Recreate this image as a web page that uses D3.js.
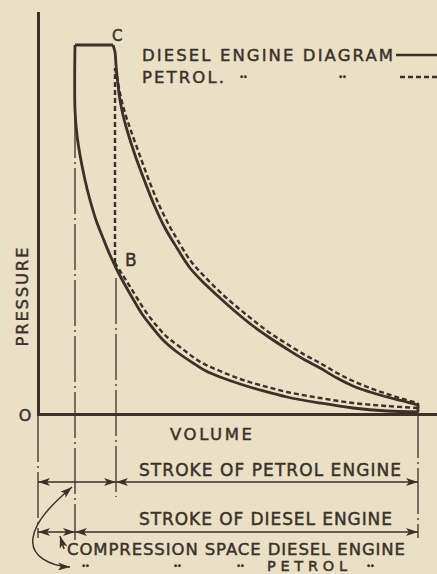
<!DOCTYPE html>
<html>
<head>
<meta charset="utf-8">
<script src="https://cdn.jsdelivr.net/npm/d3@7"></script>
<style>
  html, body { margin: 0; padding: 0; background: #e9e0c6; }
  svg { display: block; }
  text { font-family: "DejaVu Sans", "Liberation Sans", sans-serif; fill: #3b3129;
         stroke: #3b3129; stroke-width: 0.45px; }
</style>
</head>
<body>
<svg id="chart" width="437" height="574"></svg>
<script>
// Indicator diagrams: [volume, pressure] points around each cycle.
// Diesel: compression, constant-pressure burning (C), expansion.
const dieselCompression = [
  [380, 2], [349, 3], [315, 6], [282, 11], [249, 17], [222, 24], [202, 30],
  [182, 37], [168, 43], [155, 51], [139, 62], [125, 74], [114, 87], [104, 100], [95, 115],
  [87, 129], [79, 144], [72, 159], [65, 176], [58, 194], [52, 214], [47, 234],
  [42, 259], [39, 279], [37, 304], [37, 369]
];
const dieselExpansion = [
  [75, 369], [77, 362], [78, 349], [80, 329], [82, 314], [85, 299], [89, 284],
  [97, 259], [107, 232], [117, 207], [127, 186], [139, 166], [152, 146],
  [167, 130], [182, 116], [199, 101], [215, 88], [232, 76], [249, 65], [267, 54],
  [282, 46], [299, 36], [315, 28], [332, 22], [349, 17], [365, 13], [380, 9]
];
// Petrol: compression to B, constant-volume explosion, expansion.
const petrolCompression = [
  [380, 6], [349, 8], [315, 11], [282, 16], [249, 22], [222, 29], [202, 35],
  [182, 43], [168, 49], [155, 57], [142, 67], [129, 77], [118, 89], [108, 102], [99, 116],
  [91, 129], [84, 140], [77, 151]
];
const petrolExpansion = [
  [77, 346], [79, 337], [81, 326], [84, 312], [88, 298], [93, 283], [102, 258],
  [112, 231], [122, 207], [132, 187], [139, 175], [152, 154], [167, 137],
  [182, 122], [199, 107], [215, 94], [232, 81], [249, 70], [267, 59], [282, 51],
  [299, 41], [315, 33], [332, 26], [349, 20], [365, 15], [380, 11]
];

// Volume marks on the axis
const strokeEndV = 380;       // bottom dead centre
const dieselClearanceV = 37;  // compression space, diesel
const petrolClearanceV = 77;  // compression space, petrol

const legendLabels = ["DIESEL ENGINE DIAGRAM", "PETROL."];
const pointLabels = [{ text: "C", v: 74, p: 373, size: 15 }, { text: "B", v: 87, p: 148, size: 17 }];

const ink = "#3b3129";
const svg = d3.select("#chart");

const x = d3.scaleLinear().domain([0, 399]).range([38, 437]);
const y = d3.scaleLinear().domain([0, 401]).range([414, 13]);

const line = d3.line()
  .x(d => x(d[0])).y(d => y(d[1]))
  .curve(d3.curveCatmullRom.alpha(0.5));

// arrowhead marker
const defs = svg.append("defs");
defs.append("marker")
  .attr("id", "head").attr("markerUnits", "userSpaceOnUse")
  .attr("viewBox", "0 0 12 8").attr("refX", 12).attr("refY", 4)
  .attr("markerWidth", 13).attr("markerHeight", 8)
  .attr("orient", "auto-start-reverse")
  .append("path").attr("d", "M0,0 L12,4 L0,8 L3,4 Z").attr("fill", ink);

// construction (dash-dot) lines
const cons = svg.append("g").attr("stroke", ink).attr("stroke-width", 1.3)
  .attr("fill", "none").attr("stroke-dasharray", "46,4,2,4");
cons.append("line").attr("x1", x(0)).attr("x2", x(0)).attr("y1", 416).attr("y2", 538);
cons.append("line").attr("x1", x(dieselClearanceV)).attr("x2", x(dieselClearanceV))
  .attr("y1", y(302)).attr("y2", 540);
cons.append("line").attr("x1", x(petrolClearanceV) + 1).attr("x2", x(petrolClearanceV) + 1)
  .attr("y1", y(136)).attr("y2", 497);
cons.append("line").attr("x1", x(strokeEndV)).attr("x2", x(strokeEndV))
  .attr("y1", y(2)).attr("y2", 538);

// axes
const xAxis = svg.append("g").attr("transform", `translate(0,${y(0)})`)
  .call(d3.axisBottom(x).tickValues([]).tickSizeOuter(0));
const yAxis = svg.append("g").attr("transform", `translate(${x(0)},0)`)
  .call(d3.axisLeft(y).tickValues([]).tickSizeOuter(0));
[xAxis, yAxis].forEach(g => g.select(".domain")
  .attr("stroke", ink).attr("stroke-width", 3).attr("stroke-linecap", "square"));

// petrol diagram (dashed)
const dashed = svg.append("g").attr("fill", "none").attr("stroke", ink)
  .attr("stroke-width", 2.4).attr("stroke-dasharray", "5,3");
dashed.append("path").datum(petrolCompression).attr("d", line);
dashed.append("path").datum(petrolExpansion).attr("d", line);
dashed.append("line")
  .attr("x1", x(petrolClearanceV)).attr("x2", x(petrolClearanceV))
  .attr("y1", y(petrolCompression[petrolCompression.length - 1][1]))
  .attr("y2", y(petrolExpansion[0][1]));
svg.append("line")
  .attr("x1", x(strokeEndV)).attr("x2", x(strokeEndV))
  .attr("y1", y(petrolExpansion[petrolExpansion.length - 1][1])).attr("y2", y(petrolCompression[0][1]))
  .attr("stroke", ink).attr("stroke-width", 2.4);

// diesel diagram (solid)
const solid = svg.append("g").attr("fill", "none").attr("stroke", ink)
  .attr("stroke-width", 2.8).attr("stroke-linejoin", "round");
const dieselTop = [dieselCompression[dieselCompression.length - 1], dieselExpansion[0]];
solid.append("path").datum(dieselCompression).attr("d", line);
solid.append("path").datum(dieselTop).attr("d", d3.line().x(d => x(d[0])).y(d => y(d[1])));
solid.append("path").datum(dieselExpansion).attr("d", line);
solid.append("line")
  .attr("x1", x(strokeEndV)).attr("x2", x(strokeEndV))
  .attr("y1", y(dieselExpansion[dieselExpansion.length - 1][1])).attr("y2", y(dieselCompression[0][1]));

// point labels
svg.selectAll("text.pt").data(pointLabels).join("text").attr("class", "pt")
  .attr("x", d => x(d.v)).attr("y", d => y(d.p))
  .attr("font-size", d => d.size)
  .text(d => d.text);

// ditto marks drawn as a pair of dots
const ditto = (px, py) => svg.append("text").attr("x", px).attr("y", py)
  .attr("font-size", 8).attr("letter-spacing", -1).attr("text-anchor", "middle").text("\u2022\u2022");

// legend
svg.append("text").attr("x", 142).attr("y", 61).attr("font-size", 16.5)
  .attr("textLength", 251).attr("lengthAdjust", "spacing").text(legendLabels[0]);
svg.append("line").attr("x1", 396).attr("x2", 437).attr("y1", 55).attr("y2", 55)
  .attr("stroke", ink).attr("stroke-width", 2.6);
svg.append("text").attr("x", 142).attr("y", 83).attr("font-size", 16.5)
  .attr("textLength", 82).attr("lengthAdjust", "spacing").text(legendLabels[1]);
[243, 342].forEach(px => ditto(px, 80));
svg.append("line").attr("x1", 400).attr("x2", 437).attr("y1", 77).attr("y2", 77)
  .attr("stroke", ink).attr("stroke-width", 2.6).attr("stroke-dasharray", "5,3");

// axis titles
svg.append("text").attr("transform", "translate(28,297) rotate(-90)")
  .attr("text-anchor", "middle").attr("font-size", 16.5)
  .attr("textLength", 99).attr("lengthAdjust", "spacing").text("PRESSURE");
svg.append("text").attr("x", 25).attr("y", 421).attr("text-anchor", "middle")
  .attr("font-size", 16).text("O");
svg.append("text").attr("x", 170).attr("y", 440).attr("font-size", 16.5)
  .attr("textLength", 82).attr("lengthAdjust", "spacing").text("VOLUME");

// stroke and compression-space dimensions
const dims = svg.append("g").attr("stroke", ink).attr("stroke-width", 1.5).attr("fill", "none");
const dim = (a, b, py) => dims.append("line")
  .attr("x1", a).attr("x2", b).attr("y1", py).attr("y2", py)
  .attr("marker-start", "url(#head)").attr("marker-end", "url(#head)");
dim(x(0), x(petrolClearanceV) + 1, 482);
dim(x(petrolClearanceV) + 1, x(strokeEndV), 482);
dim(x(0), x(dieselClearanceV), 532);
dim(x(dieselClearanceV), x(strokeEndV), 532);

svg.append("text").attr("x", 139).attr("y", 476).attr("font-size", 17)
  .attr("textLength", 262).attr("lengthAdjust", "spacing").text("STROKE OF PETROL ENGINE");
svg.append("text").attr("x", 139).attr("y", 525).attr("font-size", 17)
  .attr("textLength", 253).attr("lengthAdjust", "spacing").text("STROKE OF DIESEL ENGINE");
svg.append("text").attr("x", 67).attr("y", 555).attr("font-size", 16.5)
  .attr("textLength", 338).attr("lengthAdjust", "spacing").text("COMPRESSION SPACE DIESEL ENGINE");
svg.append("text").attr("x", 267).attr("y", 571).attr("font-size", 14.5)
  .attr("textLength", 80).attr("lengthAdjust", "spacing").text("PETROL");
[85, 177, 240, 370].forEach(px => ditto(px, 569));

// pointers to the compression-space dimensions
dims.append("path")
  .attr("d", "M70,567 C50,566 30,556 33,538 C35,522 50,506 72,487")
  .attr("marker-start", "url(#head)").attr("marker-end", "url(#head)");
dims.append("path").attr("d", "M64,549 L60,536").attr("marker-end", "url(#head)");
</script>
</body>
</html>
